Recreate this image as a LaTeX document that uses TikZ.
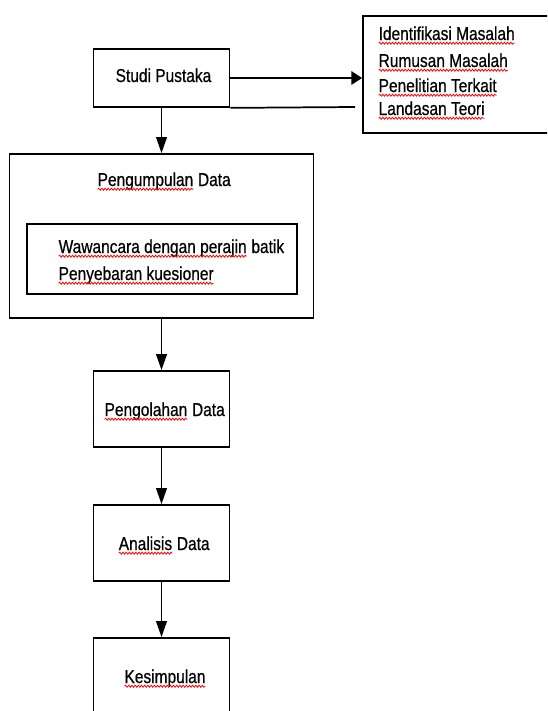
\documentclass[tikz,border=0pt]{standalone}
\usepackage{fontspec}
\setmainfont{Liberation Sans}[FakeStretch=0.83,FakeBold=0.6]
\usetikzlibrary{arrows.meta,decorations.pathmorphing}
\newcommand\sq[1]{\tikz[baseline=(sqw.base),x=1pt,y=1pt]{\node[inner sep=0pt,outer sep=0pt,anchor=base] (sqw) at (0,0) {#1};
  \draw[red,line width=0.6pt,decorate,decoration={snake,amplitude=0.75pt,segment length=2.4pt}] ([yshift=-2.4pt]sqw.base west) -- ([yshift=-2.4pt]sqw.base east);}}
\begin{document}
\begin{tikzpicture}[x=0.75pt,y=-0.75pt,
  box/.style={draw,line width=1.3pt,inner sep=0pt},
  txt/.style={inner sep=0pt,font=\fontsize{14}{16}\selectfont},
  down/.style={line width=1.3pt,-{Triangle[length=12pt,width=8pt]}},
  rarr/.style={line width=1.3pt,-{Triangle[length=8pt,width=10pt]}},
  plain/.style={line width=1.3pt}]
\useasboundingbox (0,0) rectangle (547,711);
\clip (0,0) rectangle (547,711);
% boxes
\node[box,minimum width=102pt,minimum height=43.5pt] (studi) at (161.5,78) {};
\node[box,minimum width=141.75pt,minimum height=87.75pt] (rbox) at (457.5,74.5) {};
\node[box,minimum width=228pt,minimum height=123pt] (kumpul) at (161.5,236) {};
\node[box,minimum width=202.5pt,minimum height=52.5pt] (inner) at (162,259) {};
\node[box,minimum width=102pt,minimum height=57pt] (olah) at (161.5,409) {};
\node[box,minimum width=102pt,minimum height=57pt] (analisis) at (161.5,543) {};
\node[box,minimum width=102pt,minimum height=57pt] (simpul) at (161.5,676) {};
% texts
\node[txt,anchor=base] (tstudi) at (163.5,82) {Studi Pustaka};
\node[txt,anchor=base west] (r1) at (378,40) {\sq{Identifikasi Masalah}};
\node[txt,anchor=base west] (r2) at (378,67) {\sq{Rumusan Masalah}};
\node[txt,anchor=base west] (r3) at (378,92) {\sq{Penelitian Terkait}};
\node[txt,anchor=base west] (r4) at (378,115) {\sq{Landasan Teori}};
\node[txt,anchor=base] (tkumpul) at (164,186) {\sq{Pengumpulan} Data};
\node[txt,anchor=base west] (i1) at (58,253) {\sq{Wawancara dengan perajin} batik};
\node[txt,anchor=base west] (i2) at (58,280) {\sq{Penyebaran kuesioner}};
\node[txt,anchor=base] (tolah) at (164.5,416) {\sq{Pengolahan} Data};
\node[txt,anchor=base] (tanalisis) at (164,550) {\sq{Analisis} Data};
\node[txt,anchor=base] (tsimpul) at (165,683) {\sq{Kesimpulan}};
% connectors
\coordinate (lend) at (355,107);
\draw[rarr] (studi.east) -- (studi.east -| rbox.west);
\draw[plain] (studi.south east) -- (lend);
\draw[down] (studi.south) -- (kumpul.north);
\draw[down] (kumpul.south) -- (olah.north);
\draw[down] (olah.south) -- (analisis.north);
\draw[down] (analisis.south) -- (simpul.north);
\end{tikzpicture}
\end{document}
